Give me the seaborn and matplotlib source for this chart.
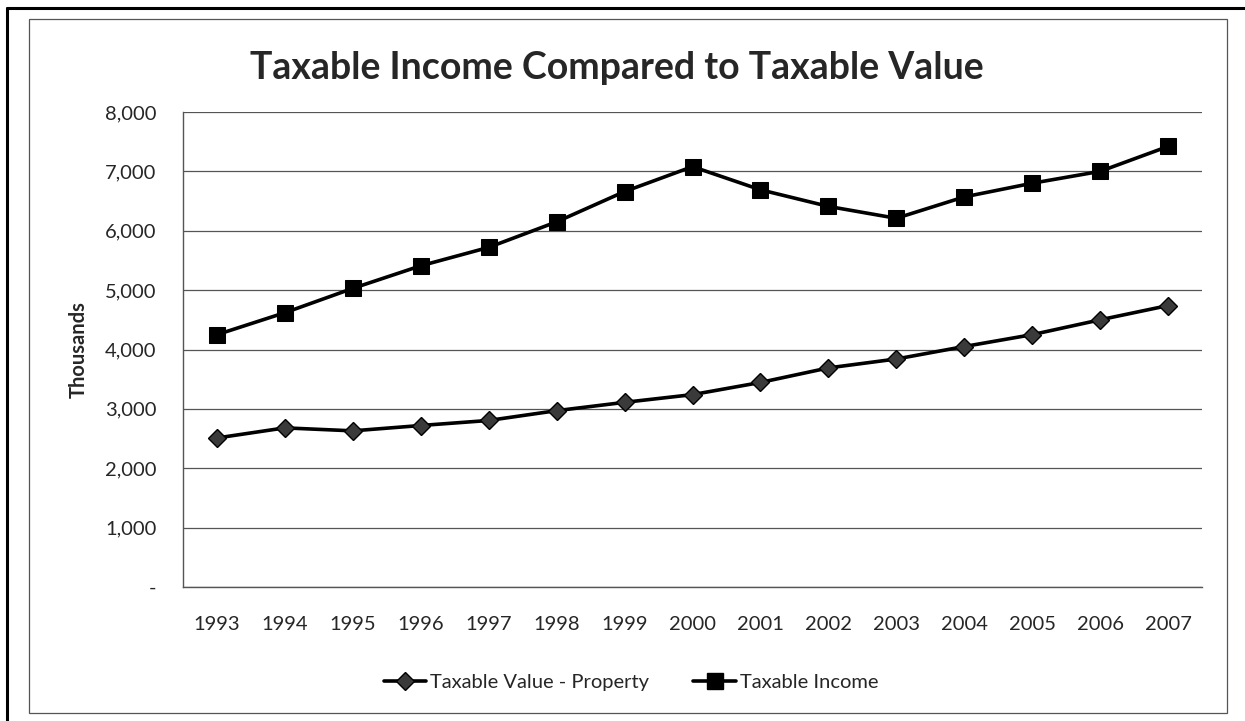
import matplotlib
matplotlib.use('Agg')
import matplotlib.pyplot as plt
import matplotlib.ticker as mticker
from matplotlib.patches import Rectangle
from matplotlib.lines import Line2D
import seaborn as sns
import pandas as pd

# values (thousands)
years = [1993, 1994, 1995, 1996, 1997, 1998, 1999, 2000,
         2001, 2002, 2003, 2004, 2005, 2006, 2007]
taxable_value_property = [2510, 2680, 2630, 2720, 2805, 2970, 3110, 3240,
                          3445, 3690, 3840, 4050, 4250, 4500, 4740]
taxable_income = [4250, 4620, 5030, 5410, 5720, 6150, 6660, 7080,
                  6690, 6410, 6210, 6570, 6800, 7000, 7420]
y_ticks = [0, 1000, 2000, 3000, 4000, 5000, 6000, 7000, 8000]

df = pd.DataFrame({'year': years,
                   'Taxable Value - Property': taxable_value_property,
                   'Taxable Income': taxable_income})

sns.set_style('white')
plt.rcParams['font.family'] = ['Lato', 'DejaVu Sans']

fig = plt.figure(figsize=(12.45, 7.21), dpi=100)
ax = fig.add_axes([183 / 1245, 1 - 587 / 721, (1202 - 183) / 1245, (587 - 112) / 721])

sns.lineplot(data=df, x='year', y='Taxable Value - Property', ax=ax,
             color='black', linewidth=2.6, marker='D', markersize=9,
             markerfacecolor='#3a3a3a', markeredgecolor='black', markeredgewidth=1)
sns.lineplot(data=df, x='year', y='Taxable Income', ax=ax,
             color='black', linewidth=2.6, marker='s', markersize=12,
             markerfacecolor='black', markeredgecolor='black')

ax.set_xlim(years[0] - 0.5, years[-1] + 0.5)
ax.set_ylim(0, 8000)
ax.set_xticks(years)
ax.set_xticklabels([str(y) for y in years])
ax.set_yticks(y_ticks)
ax.yaxis.set_major_formatter(mticker.FuncFormatter(lambda v, p: '-' if v == 0 else f'{int(v):,}'))
ax.tick_params(axis='x', length=0, pad=21, labelsize=14.5)
ax.tick_params(axis='y', length=0, pad=19, labelsize=14.5)
ax.grid(axis='y', color='#555555', linewidth=0.9)
ax.set_axisbelow(True)
for side in ['top', 'right']:
    ax.spines[side].set_visible(False)
for side in ['left', 'bottom']:
    ax.spines[side].set_color('#555555')
    ax.spines[side].set_linewidth(1)

ax.set_xlabel('')
ax.set_ylabel('Thousands', fontsize=14.5, fontweight='bold', labelpad=12)

fig.text(617 / 1245, 1 - 68 / 721, 'Taxable Income Compared to Taxable Value',
         ha='center', va='center', fontsize=27, fontweight='bold')

handles = [Line2D([], [], color='black', linewidth=2.6, marker='D', markersize=9,
                  markerfacecolor='#3a3a3a', markeredgecolor='black'),
           Line2D([], [], color='black', linewidth=2.6, marker='s', markersize=12,
                  markerfacecolor='black')]
fig.legend(handles, ['Taxable Value - Property', 'Taxable Income'],
           loc='center', bbox_to_anchor=(631 / 1245, 1 - 682 / 721), ncol=2,
           frameon=False, fontsize=14.5, handlelength=2.1, handletextpad=0.2,
           columnspacing=2.2)

# chart frame and page edges
fig.patches.append(Rectangle((29 / 1245, 1 - 713 / 721), (1227 - 29) / 1245, (713 - 19) / 721,
                             transform=fig.transFigure, fill=False,
                             edgecolor='#555555', linewidth=0.9))
fig.lines.append(Line2D([7 / 1245, 7 / 1245], [0, 1 - 8 / 721], transform=fig.transFigure,
                        color='black', linewidth=2.2))
fig.lines.append(Line2D([7 / 1245, 1], [1 - 8 / 721, 1 - 8 / 721], transform=fig.transFigure,
                        color='black', linewidth=2.2))

fig.savefig('out.png', dpi=100)
